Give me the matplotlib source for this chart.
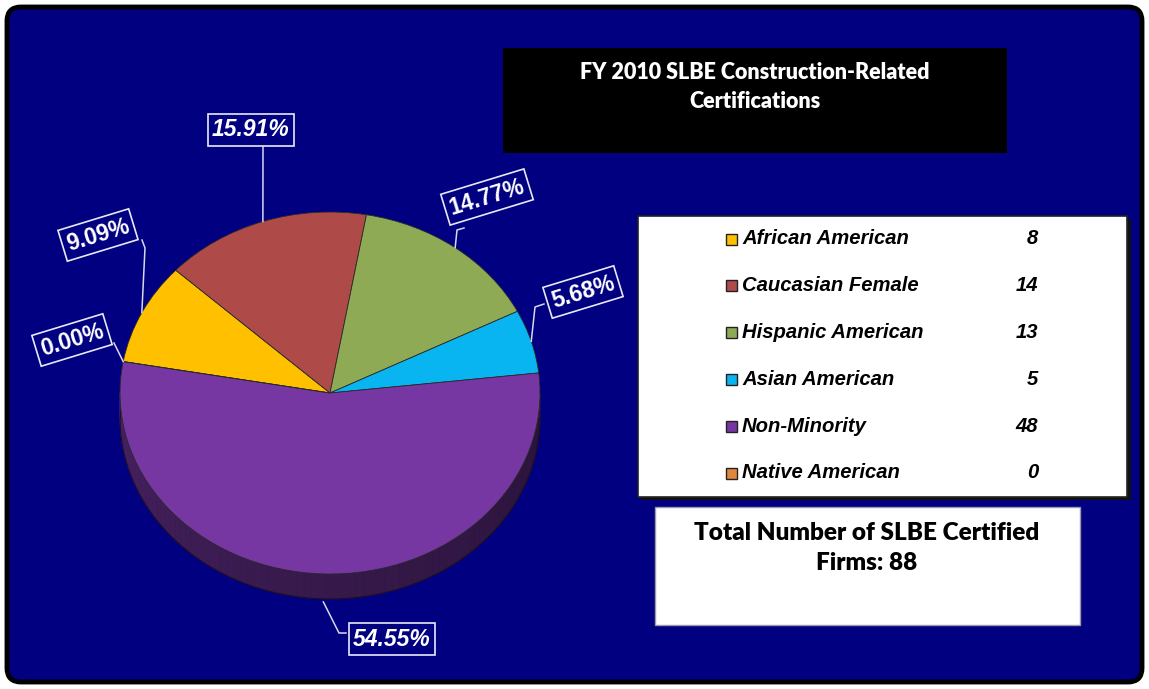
import numpy as np
import matplotlib
matplotlib.use('Agg')
import matplotlib.pyplot as plt
from matplotlib.patches import FancyBboxPatch, Rectangle, Polygon
from matplotlib.transforms import Affine2D
import matplotlib.colors as mcolors

# data
categories = ['African American', 'Caucasian Female', 'Hispanic American',
              'Asian American', 'Non-Minority', 'Native American']
counts = [8, 14, 13, 5, 48, 0]
colors = ['#FFC000', '#AE4B48', '#8FAA55', '#08B5F0', '#7737A3', '#E0873C']
pct_labels = ['9.09%', '15.91%', '14.77%', '5.68%', '54.55%', '0.00%']
title = 'FY 2010 SLBE Construction-Related\nCertifications'
total_text = 'Total Number of SLBE Certified\nFirms: 88'

NAVY = '#000080'
W, H = 1149, 689

fig = plt.figure(figsize=(W / 100, H / 100), dpi=100)
fig.patch.set_facecolor('white')
ax = fig.add_axes([0, 0, 1, 1])

# outer panel
ax.add_patch(FancyBboxPatch((7, 7), W - 14, H - 14, boxstyle='round,pad=0,rounding_size=14',
                            fc=NAVY, ec='black', lw=3.5, zorder=0))

# pie geometry (pixels)
cx, cy, rx, ry, depth = 330, 393, 210, 181, 25
pie_tf = Affine2D().scale(rx, -ry).translate(cx, cy) + ax.transData

wedges, _ = ax.pie(counts, colors=colors, startangle=170, counterclock=False,
                   wedgeprops=dict(edgecolor='#2a2a2a', linewidth=0.6))
for w in wedges:
    w.set_transform(pie_tf)
    w.set_zorder(3)


def rim(t, dy=0.0):
    t = np.radians(t)
    return np.column_stack([cx + rx * np.cos(t), cy - ry * np.sin(t) + dy])


# side of the 3d pie (front half only)
for w, c in zip(wedges, colors):
    base = np.array(mcolors.to_rgb(c))
    for k in (-1, 0):
        a = max(w.theta1, 180 + 360 * k)
        b = min(w.theta2, 360 + 360 * k)
        if b <= a:
            continue
        edges = np.linspace(a, b, max(int((b - a) / 2), 2))
        for t0, t1 in zip(edges[:-1], edges[1:]):
            u = ((t0 - 360 * k) - 180) / 180
            shade = 0.64 - 0.28 * u ** 0.6
            ts = np.linspace(t0, t1, 4)
            pts = np.vstack([rim(ts), rim(ts[::-1], depth)])
            ax.add_patch(Polygon(pts, closed=True, fc=base * shade, ec=base * shade,
                                 lw=0.5, zorder=2))
ts = np.linspace(180, 360, 200)
ax.plot(*rim(ts, depth).T, color='#1a0d26', lw=0.8, zorder=2.5)
ax.plot(*rim(np.array([180, 180]), np.array([0, depth])).T, color='#1a0d26', lw=0.6, zorder=2.5)

# percentage labels: (box centre, rotation, italic, leader elbow)
label_layout = [
    ((98, 235), 17, False, [(145, 248), (142, 240)]),
    ((251, 130), 0, True, [(263, 147)]),
    ((487, 197), 17, False, [(457, 230), (464, 228)]),
    ((583, 292), 17, False, [(535, 307), (544, 304)]),
    ((392, 639), 0, True, [(339, 633), (346, 633)]),
    ((72, 340), 17, False, [(114, 343)]),
]
for w, txt, (pos, rot, ital, elbow) in zip(wedges, pct_labels, label_layout):
    mid = (w.theta1 + w.theta2) / 2
    start = rim(np.array([mid]), depth + 3 if np.sin(np.radians(mid)) < 0 else 0)[0]
    pts = np.vstack([start, np.array(elbow)])
    ax.plot(pts[:, 0], pts[:, 1], color='#d8d8ec', lw=1.1, zorder=4)
    ax.text(pos[0], pos[1], txt, color='white', fontsize=16.5, fontweight='bold',
            fontstyle='italic' if ital else 'normal', family='Liberation Sans',
            ha='center', va='center', rotation=rot, rotation_mode='anchor', zorder=5,
            bbox=dict(boxstyle='square,pad=0.2', fc=NAVY, ec='#e8e8f4', lw=1.2))

# title box
ax.add_patch(Rectangle((503, 48), 504, 105, fc='black', ec='none', zorder=1))
ax.text(755, 87, title, color='white', fontsize=15.5, fontweight='heavy', family='Lato',
        ha='center', va='center', linespacing=1.45, zorder=2)

# legend box with shadow
ax.add_patch(Rectangle((641, 219), 490, 281, fc='#111111', ec='none', zorder=1))
ax.add_patch(Rectangle((638, 216), 489, 281, fc='white', ec='#222222', lw=1.2, zorder=1.5))
row_y = np.linspace(239, 473, len(categories))
for y, name, n, c in zip(row_y, categories, counts, colors):
    ax.add_patch(Rectangle((726, y - 5.5), 11, 11, fc=c, ec='#222222', lw=1.0, zorder=2))
    ax.text(742, y, name, color='black', fontsize=14.6, fontweight='bold', fontstyle='italic',
            family='Liberation Sans', ha='left', va='center', zorder=2)
    ax.text(1038, y, str(n), color='black', fontsize=14.6, fontweight='bold', fontstyle='italic',
            family='Liberation Sans', ha='right', va='center', zorder=2)

# total box
ax.add_patch(Rectangle((655, 507), 425, 118, fc='white', ec='#9a9aa8', lw=1.0, zorder=1))
ax.text(867, 548, total_text, color='black', fontsize=17.5, fontweight='heavy', family='Lato',
        ha='center', va='center', linespacing=1.45, zorder=2)

ax.set_xlim(0, W)
ax.set_ylim(H, 0)
ax.set_aspect('auto')
ax.axis('off')
fig.savefig('out.png', dpi=100, facecolor='white')
